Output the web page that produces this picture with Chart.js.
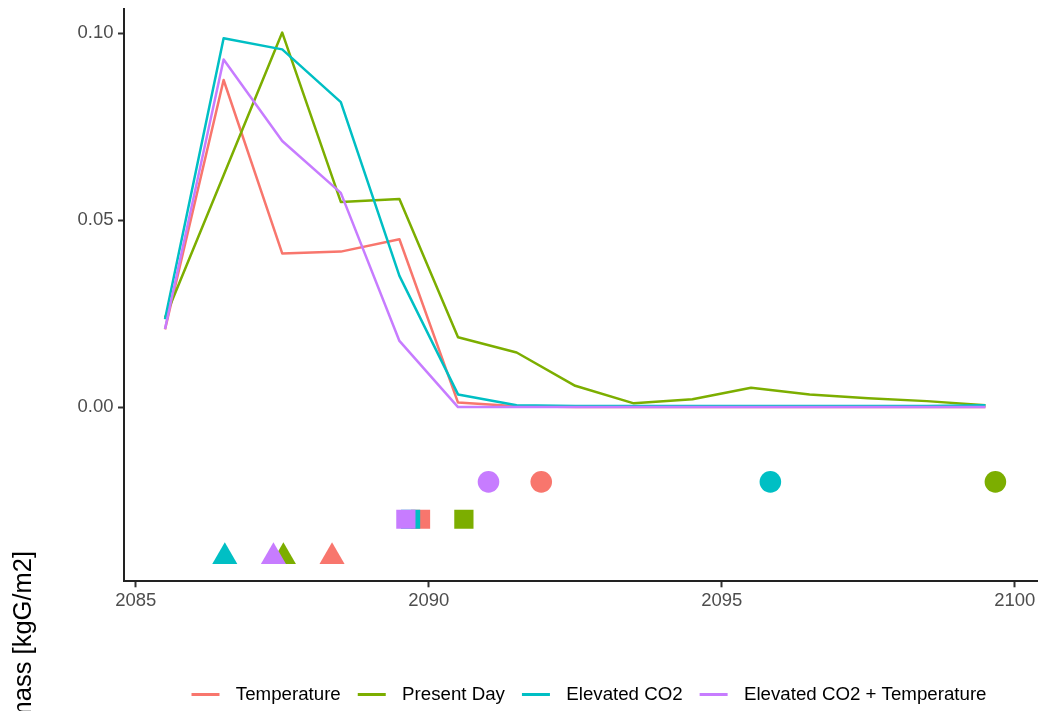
<!DOCTYPE html>
<html>
<head>
<meta charset="utf-8">
<title>Biomass</title>
<script src="https://cdn.jsdelivr.net/npm/chart.js@4.4.1/dist/chart.umd.min.js"></script>
<style>
  html, body { margin: 0; padding: 0; background: #ffffff; }
  #wrap { width: 1042px; height: 711px; position: relative; }
  canvas { display: block; }
</style>
</head>
<body>
<div id="wrap"><canvas id="chart" width="1042" height="711"></canvas></div>
<script>
// Years of the yearly biomass values
const years = [2085.5, 2086.5, 2087.5, 2088.5, 2089.5, 2090.5, 2091.5, 2092.5,
               2093.5, 2094.5, 2095.5, 2096.5, 2097.5, 2098.5, 2099.5];

// Scenario names, in legend order
const scenarios = ['Temperature', 'Present Day', 'Elevated CO2', 'Elevated CO2 + Temperature'];
const scenarioColors = ['#F8766D', '#7CAE00', '#00BFC4', '#C77CFF'];

// Biomass per scenario [kgG/m2]
const temperature     = [0.0208, 0.0875, 0.0411, 0.0416, 0.0449, 0.0012, 0.0002, 0.0000,
                         0.0000, 0.0000, 0.0000, 0.0000, 0.0000, 0.0000, 0.0000];
const presentDay      = [0.0239, 0.0620, 0.1002, 0.0549, 0.0557, 0.0187, 0.0146, 0.0057,
                         0.0010, 0.0021, 0.0052, 0.0034, 0.0024, 0.0016, 0.0005];
const elevatedCO2     = [0.0235, 0.0987, 0.0957, 0.0816, 0.0351, 0.0034, 0.0005, 0.0003,
                         0.0003, 0.0003, 0.0003, 0.0003, 0.0003, 0.0003, 0.0005];
const elevatedCO2Temp = [0.0209, 0.0930, 0.0712, 0.0573, 0.0177, 0.0000, 0.0000, 0.0000,
                         0.0000, 0.0000, 0.0000, 0.0000, 0.0000, 0.0000, 0.0000];
const seriesValues = [temperature, presentDay, elevatedCO2, elevatedCO2Temp];

// Event years per scenario (circle, square, triangle rows)
const circleYears   = [2091.92, 2099.67, 2095.83, 2091.02];
const squareYears   = [2089.86, 2090.60, 2089.69, 2089.61];
const triangleYears = [2088.35, 2087.52, 2086.52, 2087.35];
const markerRows    = [-0.02, -0.03, -0.04];

// Axis ticks
const xTicks = [2085, 2090, 2095, 2100];
const yTicks = [0.00, 0.05, 0.10];

const FONT = "'Liberation Sans', Arial, Helvetica, sans-serif";
Chart.defaults.font.family = FONT;

// Legend key: a short line with blank margins on both sides
function legendKey(color) {
  const c = document.createElement('canvas');
  c.width = 52; c.height = 3;
  const g = c.getContext('2d');
  g.fillStyle = color;
  g.fillRect(17, 0, 28, 3);
  return c;
}
const legendKeys = scenarioColors.map(legendKey);

const lineSets = scenarios.map((name, i) => ({
  type: 'line',
  label: name,
  data: years.map((x, k) => ({ x, y: seriesValues[i][k] })),
  borderColor: scenarioColors[i],
  backgroundColor: scenarioColors[i],
  borderWidth: 2.5,
  borderJoinStyle: 'round',
  pointRadius: 0,
  pointHoverRadius: 0,
  tension: 0,
  fill: false,
  order: 7 - i
}));

const markerSets = scenarios.map((name, i) => ({
  type: 'scatter',
  label: name + ' events',
  data: [
    { x: circleYears[i],   y: markerRows[0] },
    { x: squareYears[i],   y: markerRows[1] },
    { x: triangleYears[i], y: markerRows[2] }
  ],
  pointStyle: ['circle', 'rect', 'triangle'],
  pointRadius: [10.8, 13.6, 14.5],
  pointHoverRadius: [10.8, 13.6, 14.5],
  backgroundColor: scenarioColors[i],
  borderWidth: 0,
  pointBorderWidth: 0,
  order: 3 - i
}));

// Rotated axis title on the left edge
const axisTitle = {
  id: 'axisTitle',
  afterDraw(chart) {
    const ctx = chart.ctx;
    ctx.save();
    ctx.font = '25.5px ' + FONT;
    ctx.fillStyle = '#000000';
    ctx.translate(31, 551);
    ctx.rotate(-Math.PI / 2);
    ctx.textAlign = 'right';
    ctx.textBaseline = 'alphabetic';
    ctx.fillText('Biomass [kgG/m2]', 0, 0);
    ctx.restore();
  }
};

new Chart(document.getElementById('chart'), {
  type: 'line',
  data: { datasets: [...lineSets, ...markerSets] },
  options: {
    responsive: false,
    animation: false,
    devicePixelRatio: 1,
    layout: {
      autoPadding: false,
      padding: { top: 9, right: 5, left: 0, bottom: -3 }
    },
    plugins: {
      tooltip: { enabled: false },
      title: { display: false },
      legend: {
        position: 'bottom',
        fullSize: false,
        labels: {
          usePointStyle: true,
          pointStyleWidth: 52,
          padding: 0,
          color: '#1a1a1a',
          font: { size: 18.7, family: FONT },
          generateLabels() {
            return scenarios.map((name, i) => ({
              text: name,
              fillStyle: scenarioColors[i],
              strokeStyle: scenarioColors[i],
              lineWidth: 0,
              pointStyle: legendKeys[i],
              hidden: false,
              datasetIndex: i
            }));
          }
        }
      }
    },
    scales: {
      x: {
        type: 'linear',
        min: 2084.8,
        max: 2100.38,
        afterFit(scale) {
          scale.height = 104;
          scale.paddingLeft = 0;
          scale.paddingRight = 0;
        },
        afterBuildTicks(scale) { scale.ticks = xTicks.map(v => ({ value: v })); },
        ticks: {
          color: '#4d4d4d',
          font: { size: 18.5 },
          padding: 3,
          maxRotation: 0,
          autoSkip: false,
          callback: v => String(v)
        },
        grid: {
          drawOnChartArea: false,
          drawTicks: true,
          tickLength: 6,
          tickColor: '#333333',
          tickWidth: 2
        },
        border: { display: true, color: '#222222', width: 2 }
      },
      y: {
        type: 'linear',
        min: -0.0466,
        max: 0.1065,
        afterFit(scale) {
          scale.width = 124;
          scale.paddingTop = 0;
          scale.paddingBottom = 0;
        },
        afterBuildTicks(scale) { scale.ticks = yTicks.map(v => ({ value: v })); },
        ticks: {
          color: '#4d4d4d',
          font: { size: 18.5 },
          padding: 4.5,
          autoSkip: false,
          callback: v => Number(v).toFixed(2)
        },
        grid: {
          drawOnChartArea: false,
          drawTicks: true,
          tickLength: 6,
          tickColor: '#333333',
          tickWidth: 2
        },
        border: { display: true, color: '#222222', width: 2 }
      }
    }
  },
  plugins: [axisTitle]
});
</script>
</body>
</html>
